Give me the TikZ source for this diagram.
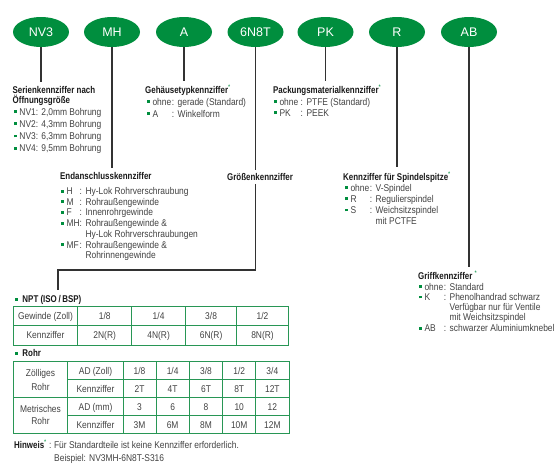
\documentclass[tikz,border=0pt]{standalone}
\usepackage{fontspec}
\setmainfont{Liberation Sans}
\newfontfamily\bodyf{Liberation Sans}[FakeStretch=0.86]
\newfontfamily\headf{Liberation Sans}[FakeStretch=0.81]
\newfontfamily\ellf{Liberation Sans}
\usetikzlibrary{shapes.geometric}
\definecolor{pgreen}{RGB}{0,142,62}
\definecolor{tgreen}{RGB}{40,150,85}
\definecolor{txtgray}{RGB}{65,65,65}
\definecolor{hdcol}{RGB}{25,25,25}
\definecolor{lncol}{RGB}{50,50,50}
\newcommand\bul{\textcolor{pgreen}{\rule[2pt]{2.8pt}{2.8pt}}\hspace{2.5pt}}
\newcommand\gstar{{\mdseries\textsuperscript{\textcolor{pgreen}{*}}}}
\newcommand\kvrow[6]{%
  \node[txt] (#1k) at (#2,#4) {\bul #5};
  \node[txt] (#1v) at (#3,#4) {:\hspace{3.5pt}#6};}
\tikzset{
  ell/.style={ellipse, fill=pgreen, minimum width=56pt, minimum height=30pt, inner sep=0pt,
    text=white, font=\ellf\fontsize{12.5}{14}\selectfont},
  txt/.style={inner sep=0pt, anchor=base west, text=txtgray, font=\bodyf\fontsize{9.8}{11}\selectfont},
  hd/.style={inner sep=0pt, anchor=base west, text=hdcol, font=\headf\bfseries\fontsize{9.8}{11}\selectfont},
  cell/.style={inner sep=0pt, anchor=base, text=txtgray, font=\bodyf\fontsize{9.8}{11}\selectfont},
  conn/.style={draw=lncol, line width=1.1pt},
  tbl/.style={draw=tgreen, line width=0.9pt},
}
\begin{document}
\begin{tikzpicture}[x=1pt,y=-1pt]
\useasboundingbox (0,0) rectangle (560,467);

% ellipses
\node[ell] (e1) at (41,32) {NV3};
\node[ell] (e2) at (112,32) {MH};
\node[ell] (e3) at (184,32) {A};
\node[ell] (e4) at (255.5,32) {6N8T};
\node[ell] (e5) at (325.5,32) {PK};
\node[ell] (e6) at (397,32) {R};
\node[ell] (e7) at (469,32) {AB};

% Serien
\node[hd] (h1) at (12.5,93.5) {Serienkennziffer nach};
\node[hd] (h1b) at (12.5,103) {Öffnungsgröße};
\node[txt] (s1) at (14,115) {\bul NV1: 2,0mm Bohrung};
\node[txt] (s2) at (14,127.2) {\bul NV2: 4,3mm Bohrung};
\node[txt] (s3) at (14,139.4) {\bul NV3: 6,3mm Bohrung};
\node[txt] (s4) at (14,151.6) {\bul NV4: 9,5mm Bohrung};

% Gehaeuse
\node[hd] (h2) at (145,93.5) {Gehäusetypkennziffer\gstar};
\kvrow{g1}{147}{171.6}{105}{ohne}{gerade (Standard)}
\kvrow{g2}{147}{171.6}{117}{A}{Winkelform}

% Packung
\node[hd] (h3) at (273,93.5) {Packungsmaterialkennziffer\gstar};
\kvrow{p1}{274}{300.5}{105}{ohne}{PTFE (Standard)}
\kvrow{p2}{274}{300.5}{116}{PK}{PEEK}

% Endanschluss
\node[hd] (h4) at (60,179.5) {Endanschlusskennziffer};
\kvrow{m1}{61}{79.5}{194.5}{H}{Hy-Lok Rohrverschraubung}
\kvrow{m2}{61}{79.5}{205.2}{M}{Rohraußengewinde}
\kvrow{m3}{61}{79.5}{215.8}{F}{Innenrohrgewinde}
\kvrow{m4}{61}{79.5}{226.8}{MH}{Rohraußengewinde \&}
\node[txt] (m4b) at (85.3,237.5) {Hy-Lok Rohrverschraubungen};
\kvrow{m5}{61}{79.5}{248.2}{MF}{Rohraußengewinde \&}
\node[txt] (m5b) at (85.3,258.5) {Rohrinnengewinde};

% Groesse
\node[hd] (h5) at (227,180.5) {Größenkennziffer};

% Spindel
\node[hd] (h6) at (343,180) {Kennziffer für Spindelspitze\gstar};
\kvrow{r1}{345}{369.6}{191}{ohne}{V-Spindel}
\kvrow{r2}{345}{369.6}{202.2}{R}{Regulierspindel}
\kvrow{r3}{345}{369.6}{213.4}{S}{Weichsitzspindel}
\node[txt] (r3b) at (375.4,224) {mit PCTFE};

% Griff
\node[hd] (h7) at (418,279.5) {Griffkennziffer \gstar};
\kvrow{k1}{419}{443.6}{290.2}{ohne}{Standard}
\kvrow{k2}{419}{443.6}{300.4}{K}{Phenolhandrad schwarz}
\node[txt] (k2b) at (449.4,310.6) {Verfügbar nur für Ventile};
\node[txt] (k2c) at (449.4,320.8) {mit Weichsitzspindel};
\kvrow{k3}{419}{443.6}{331.5}{AB}{schwarzer Aluminiumknebel}

% NPT
\node[hd] (npt) at (15,302.5) {\bul\hspace{2pt}NPT (ISO\,/\,BSP)};
\draw[tbl] (13.3,306) rectangle (288.3,345);
\draw[tbl] (13.3,325.5) -- (288.3,325.5);
\foreach \x in {77.7,131.7,185.5,236.7} \draw[tbl] (\x,306) -- (\x,345);
\node[cell] (n11) at (45.5,319.3) {Gewinde (Zoll)};
\node[cell] (n12) at (104.7,319.3) {1/8};
\node[cell] (n13) at (158.6,319.3) {1/4};
\node[cell] (n14) at (211.1,319.3) {3/8};
\node[cell] (n15) at (262.5,319.3) {1/2};
\node[cell] (n21) at (45.5,338.8) {Kennziffer};
\node[cell] (n22) at (104.7,338.8) {2N(R)};
\node[cell] (n23) at (158.6,338.8) {4N(R)};
\node[cell] (n24) at (211.1,338.8) {6N(R)};
\node[cell] (n25) at (262.5,338.8) {8N(R)};

% Rohr
\node[hd] (rohr) at (15,356.8) {\bul\hspace{2pt}Rohr};
\draw[tbl] (13.3,361.5) rectangle (289,433.5);
\draw[tbl] (13.3,397.5) -- (289,397.5);
\draw[tbl] (67.7,379.5) -- (289,379.5);
\draw[tbl] (67.7,415.5) -- (289,415.5);
\foreach \x in {67.7,123.3,156,189.3,222.7,255.7} \draw[tbl] (\x,361.5) -- (\x,433.5);
\node[cell] (t0a) at (40.5,376.8) {Zölliges};
\node[cell] (t0b) at (40.5,390.2) {Rohr};
\node[cell] (t0c) at (40.5,412.5) {Metrisches};
\node[cell] (t0d) at (40.5,424.5) {Rohr};
\node[cell] (t11) at (95.5,374) {AD (Zoll)};
\node[cell] (t12) at (139.5,374) {1/8};
\node[cell] (t13) at (172.65,374) {1/4};
\node[cell] (t14) at (206,374) {3/8};
\node[cell] (t15) at (239.2,374) {1/2};
\node[cell] (t16) at (272.35,374) {3/4};
\node[cell] (t21) at (95.5,392) {Kennziffer};
\node[cell] (t22) at (139.5,392) {2T};
\node[cell] (t23) at (172.65,392) {4T};
\node[cell] (t24) at (206,392) {6T};
\node[cell] (t25) at (239.2,392) {8T};
\node[cell] (t26) at (272.35,392) {12T};
\node[cell] (t31) at (95.5,410) {AD (mm)};
\node[cell] (t32) at (139.5,410) {3};
\node[cell] (t33) at (172.65,410) {6};
\node[cell] (t34) at (206,410) {8};
\node[cell] (t35) at (239.2,410) {10};
\node[cell] (t36) at (272.35,410) {12};
\node[cell] (t41) at (95.5,428) {Kennziffer};
\node[cell] (t42) at (139.5,428) {3M};
\node[cell] (t43) at (172.65,428) {6M};
\node[cell] (t44) at (206,428) {8M};
\node[cell] (t45) at (239.2,428) {10M};
\node[cell] (t46) at (272.35,428) {12M};

% Hinweis
\node[hd] (hw) at (14,448.5) {Hinweis\gstar};
\node[txt] (hw1) at (49,448.5) {:\hspace{2.5pt}Für Standardteile ist keine Kennziffer erforderlich.};
\node[txt] (hw2) at (54,461) {Beispiel: NV3MH-6N8T-S316};

% connectors
\coordinate (c1) at (255.5,270);
\coordinate (c2) at (58,270);
\draw[conn, shorten >=4pt] (e1.south) -- (e1.south |- h1.north);
\draw[conn, shorten >=4pt] (e2.south) -- (e2.south |- h4.north);
\draw[conn, shorten >=4pt] (e3.south) -- (e3.south |- h2.north);
\draw[conn, shorten >=3.5pt] (e4.south) -- (e4.south |- h5.north);
\draw[conn, shorten <=3pt, shorten >=5pt] (e4.south |- h5.south) -- (c1) -- (c2) -- (c2 |- npt.north);
\draw[conn, shorten >=4pt] (e5.south) -- (e5.south |- h3.north);
\draw[conn, shorten >=4pt] (e6.south) -- (e6.south |- h6.north);
\draw[conn, shorten >=4pt] (e7.south) -- (e7.south |- h7.north);
\end{tikzpicture}
\end{document}
